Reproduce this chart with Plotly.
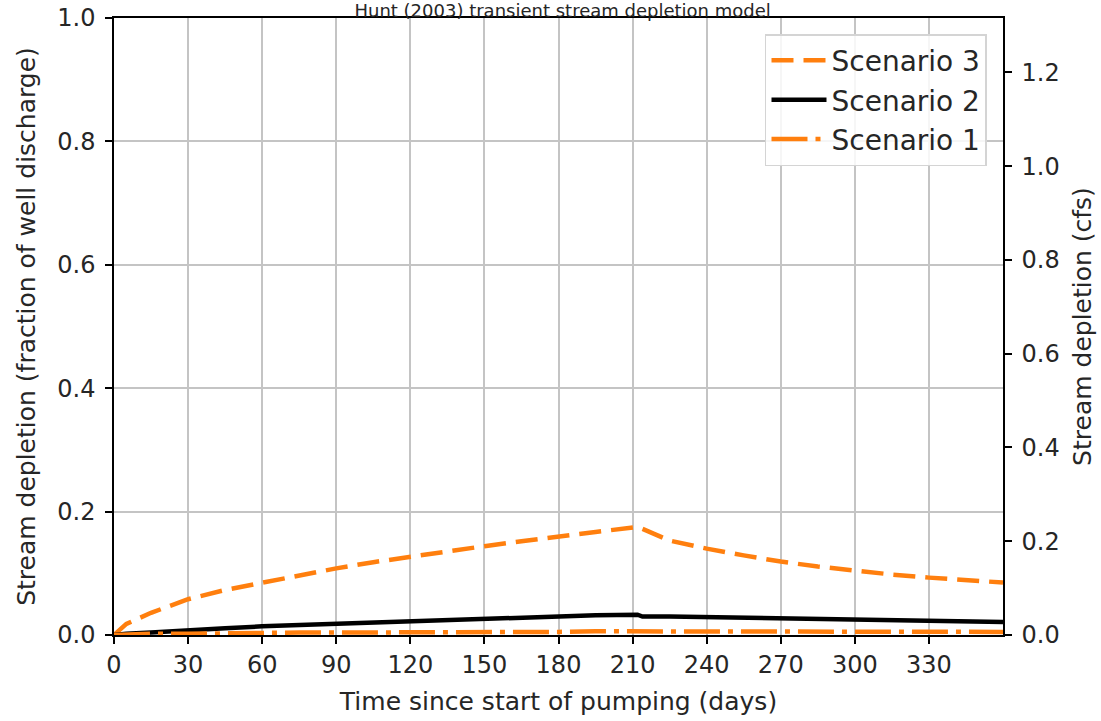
import plotly.graph_objects as go

days = [0, 5, 15, 30, 45, 60, 75, 90, 105, 120, 135, 150, 165, 180, 195, 212,
        214, 225, 240, 255, 270, 285, 300, 315, 330, 345, 360]
scenario3 = [0.0, 0.018, 0.036, 0.058, 0.073, 0.085, 0.097, 0.108, 0.118, 0.127,
             0.136, 0.144, 0.152, 0.160, 0.167, 0.175,
             0.172, 0.153, 0.140, 0.129, 0.119, 0.111, 0.104, 0.098, 0.093, 0.089, 0.085]
scenario2 = [0.0, 0.002, 0.004, 0.008, 0.011, 0.014, 0.016, 0.019, 0.021, 0.023,
             0.025, 0.027, 0.029, 0.030, 0.032, 0.033,
             0.030, 0.030, 0.029, 0.028, 0.027, 0.026, 0.025, 0.024, 0.023, 0.022, 0.021]
scenario1 = [0.0, 0.001, 0.002, 0.002, 0.003, 0.003, 0.004, 0.004, 0.004, 0.005,
             0.005, 0.005, 0.005, 0.005, 0.006, 0.006,
             0.006, 0.006, 0.005, 0.005, 0.005, 0.005, 0.005, 0.005, 0.005, 0.005, 0.005]

x_ticks = list(range(0, 331, 30))
left_ticks = [0.0, 0.2, 0.4, 0.6, 0.8, 1.0]
right_ticks = [0.0, 0.2, 0.4, 0.6, 0.8, 1.0, 1.2]
cfs_max = 1.316

ORANGE = "#ff7f0e"
FONT = "DejaVu Sans"
TXT = "#262626"

fig = go.Figure()
fig.add_trace(go.Scatter(x=days, y=scenario3, mode="lines", name="Scenario 3",
                         legendgroup="s3",
                         line=dict(color=ORANGE, width=4.5, dash="22px,10px")))
fig.add_trace(go.Scatter(x=days, y=scenario2, mode="lines", name="Scenario 2",
                         legendgroup="s2",
                         line=dict(color="black", width=4.5)))
fig.add_trace(go.Scatter(x=days, y=scenario1, mode="lines", name="Scenario 1",
                         legendgroup="s1",
                         line=dict(color=ORANGE, width=4.5, dash="36px,8px,5px,8px")))
fig.add_trace(go.Scatter(x=[None], y=[None], yaxis="y2", showlegend=False,
                         hoverinfo="skip"))

axis_common = dict(showline=True, linecolor="black", linewidth=1.5,
                   ticks="outside", ticklen=7, tickcolor="black", tickwidth=1.5,
                   tickfont=dict(family=FONT, size=24, color=TXT),
                   zeroline=False, automargin=False)

fig.update_layout(
    width=1101, height=721,
    margin=dict(l=114, r=98, t=18, b=86),
    paper_bgcolor="white", plot_bgcolor="white",
    font=dict(family=FONT, color=TXT),
    title=dict(text="Hunt (2003) transient stream depletion model",
               x=0.511, xanchor="center", yref="container", y=0.985, yanchor="middle",
               font=dict(family=FONT, size=18, color=TXT)),
    xaxis=dict(range=[0, 360], tickvals=x_ticks, mirror=True,
               showgrid=True, gridcolor="#c4c4c4", gridwidth=1.5,
               title=dict(text="Time since start of pumping (days)",
                          font=dict(family=FONT, size=25, color=TXT)),
               **axis_common),
    yaxis=dict(range=[0, 1.0], tickvals=left_ticks, tickformat=".1f", mirror=True,
               showgrid=True, gridcolor="#c4c4c4", gridwidth=1.5, ticklabelstandoff=5,
               title=dict(text="Stream depletion (fraction of well discharge)",
                          font=dict(family=FONT, size=25, color=TXT)),
               **axis_common),
    yaxis2=dict(range=[0, cfs_max], tickvals=right_ticks, tickformat=".1f",
                overlaying="y", side="right", showgrid=False, ticklabelstandoff=5,
                title=dict(text="Stream depletion (cfs)",
                           font=dict(family=FONT, size=25, color=TXT)),
                **axis_common),
    legend=dict(x=0.982, y=0.974, xanchor="right", yanchor="top",
                bgcolor="rgba(255,255,255,0.85)", bordercolor="#d4d4d4", borderwidth=1.5,
                font=dict(family=FONT, size=28, color=TXT),
                traceorder="grouped", tracegroupgap=0, itemwidth=55),
    showlegend=True,
)

fig.write_html("out.html", config={"displayModeBar": False},
               post_script="document.body.style.margin='0px';")
